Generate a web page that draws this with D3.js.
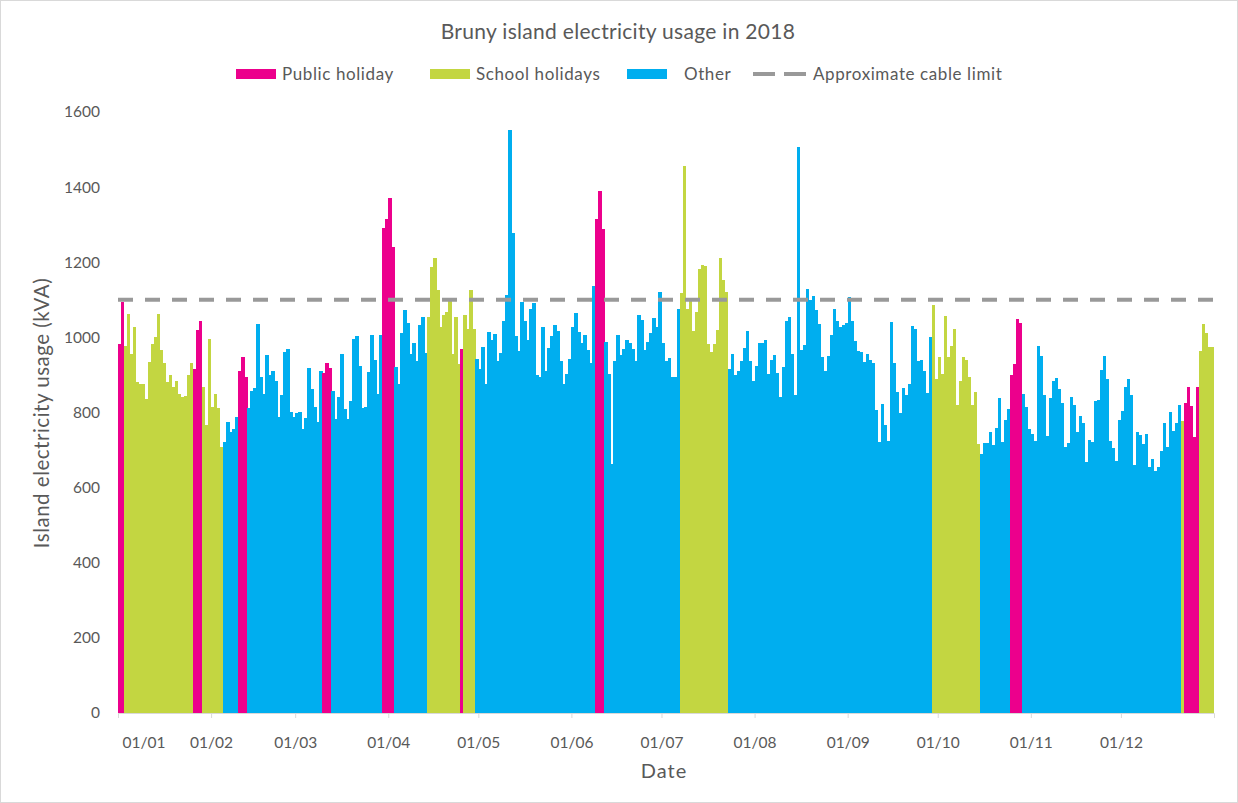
<!DOCTYPE html>
<html>
<head>
<meta charset="utf-8">
<script src="https://cdn.jsdelivr.net/npm/d3@7"></script>
<style>
  body { margin: 0; background: #fff; }
  svg { display: block; font-family: Lato, "Open Sans", sans-serif; }
</style>
</head>
<body>
<svg id="chart" width="1238" height="803"></svg>
<script>
// daily island usage (kVA), one array per month
var jan = [982, 1095, 977, 1062, 956, 1028, 881, 876, 875, 836, 935, 982, 1001, 1062, 966, 933,
  882, 900, 869, 885, 849, 841, 845, 900, 931, 916, 1020, 1043, 869, 767, 996];
var feb = [815, 849, 812, 707, 721, 775, 748, 755, 787, 911, 949, 895, 812, 858, 865, 1036,
  895, 849, 952, 899, 910, 885, 789, 846, 961, 970, 801, 787];
var mar = [798, 801, 755, 785, 918, 862, 815, 775, 910, 906, 933, 918, 858, 782, 842, 956,
  808, 782, 831, 995, 1004, 925, 812, 815, 908, 1007, 941, 849, 1007, 1291, 1314];
var apr = [1371, 1241, 922, 876, 1012, 1073, 1037, 957, 986, 938, 1034, 1053, 959, 1053, 1188,
  1211, 1126, 1027, 1060, 1067, 1099, 956, 1053, 929, 970, 1060, 1023, 1126, 1023, 943];
var may = [917, 975, 876, 1014, 993, 1009, 936, 959, 1043, 1114, 1552, 1277, 1004, 965, 1094,
  1043, 993, 1076, 1092, 899, 895, 1028, 910, 973, 1004, 1032, 1016, 936, 876, 902, 943];
var jun = [1027, 1064, 1014, 984, 1007, 966, 933, 1137, 1314, 1389, 1288, 989, 902, 663, 936,
  1007, 954, 970, 993, 984, 970, 936, 1060, 1046, 966, 989, 1011, 1051, 1028, 1121];
var jul = [986, 936, 945, 895, 895, 1076, 1119, 1456, 1075, 1101, 1016, 1067, 1181, 1193, 1190,
  982, 961, 983, 1020, 1211, 1153, 1122, 917, 956, 899, 911, 938, 972, 1016, 938, 883];
var aug = [925, 986, 985, 993, 902, 940, 952, 906, 842, 922, 1043, 1053, 956, 846, 1506, 966,
  979, 1130, 1099, 1110, 1073, 1036, 947, 911, 951, 1007, 1076, 1043, 1027, 1034, 1037];
var sep = [1107, 1043, 991, 963, 962, 934, 956, 940, 933, 807, 721, 823, 768, 725, 1041, 933,
  855, 798, 865, 846, 876, 1030, 1021, 936, 940, 911, 853, 1000, 1087, 890];
var oct = [949, 902, 1057, 947, 977, 1023, 819, 883, 949, 941, 895, 819, 855, 716, 689, 720,
  720, 748, 713, 759, 838, 721, 780, 808, 899, 929, 1050, 1039, 849, 815, 755];
var nov = [743, 725, 977, 950, 846, 737, 838, 885, 892, 862, 826, 709, 718, 842, 819, 748,
  792, 771, 668, 728, 721, 830, 833, 913, 950, 888, 725, 705, 672, 780];
var dec = [803, 869, 888, 847, 661, 748, 741, 716, 744, 654, 677, 645, 654, 697, 771, 709,
  801, 752, 771, 821, 778, 824, 869, 817, 736, 869, 963, 1036, 1012, 975, 974];

// day ranges flagged in the original (first day, last day)
var publicHolidays = [
  ["2018-01-01", "2018-01-02"], ["2018-01-26", "2018-01-28"], ["2018-02-10", "2018-02-12"],
  ["2018-03-10", "2018-03-12"], ["2018-03-30", "2018-04-02"], ["2018-04-25", "2018-04-25"],
  ["2018-06-09", "2018-06-11"], ["2018-10-25", "2018-10-28"], ["2018-12-22", "2018-12-26"]
];
var schoolHolidays = [
  ["2018-01-03", "2018-01-25"], ["2018-01-29", "2018-02-04"], ["2018-04-14", "2018-04-24"],
  ["2018-04-26", "2018-04-29"], ["2018-07-07", "2018-07-22"], ["2018-09-29", "2018-10-14"],
  ["2018-12-21", "2018-12-21"], ["2018-12-27", "2018-12-31"]
];
var cableLimit = 1100;
var yTicks = [0, 200, 400, 600, 800, 1000, 1200, 1400, 1600];
var legendLabels = ["Public holiday", "School holidays", "Other", "Approximate cable limit"];

var svg = d3.select("#chart");
var width = 1238, height = 803;
var plotLeft = 118, plotRight = 1214, plotTop = 112, plotBottom = 713;
var textColor = "#595959";

var parse = d3.timeParse("%Y-%m-%d");
var start = parse("2018-01-01"), end = parse("2019-01-01");

var usage = [].concat(jan, feb, mar, apr, may, jun, jul, aug, sep, oct, nov, dec);

function inRanges(date, ranges) {
  for (var i = 0; i < ranges.length; i++) {
    if (date >= parse(ranges[i][0]) && date <= parse(ranges[i][1])) return true;
  }
  return false;
}

var days = usage.map(function(v, i) {
  var date = d3.timeDay.offset(start, i);
  var group = 3;
  if (inRanges(date, publicHolidays)) group = 1;
  else if (inRanges(date, schoolHolidays)) group = 2;
  return { date: date, value: v, group: group };
});

function color(g) {
  switch (g) {
    case 1: return "#ec008c"; // public holiday
    case 2: return "#c3d641"; // school holidays
    default: return "#00aeef"; // other
  }
}

var x = d3.scaleTime().domain([start, end]).range([plotLeft, plotRight]);
var y = d3.scaleLinear().domain([0, 1600]).range([plotBottom, plotTop]);

// chart border
svg.append("rect")
  .attr("x", 0.5).attr("y", 0.5)
  .attr("width", width - 1).attr("height", height - 1)
  .attr("fill", "none").attr("stroke", "#d9d9d9");

// bars
svg.append("g")
  .selectAll("rect")
  .data(days)
  .enter().append("rect")
  .attr("x", function(d) { return x(d.date); })
  .attr("width", function(d) { return x(d3.timeDay.offset(d.date, 1)) - x(d.date) + 0.4; })
  .attr("y", function(d) { return y(d.value); })
  .attr("height", function(d) { return y(0) - y(d.value); })
  .attr("fill", function(d) { return color(d.group); })
  .attr("shape-rendering", "crispEdges");

// cable limit
svg.append("line")
  .attr("x1", plotLeft).attr("x2", plotRight)
  .attr("y1", y(cableLimit)).attr("y2", y(cableLimit))
  .attr("stroke", "#999999")
  .attr("stroke-width", 4)
  .attr("stroke-dasharray", "15 12");

// y axis
var yAxis = svg.append("g")
  .attr("transform", "translate(" + plotLeft + ",0)")
  .call(d3.axisLeft(y).tickValues(yTicks).tickFormat(d3.format("d"))
    .tickSize(0).tickPadding(18));
yAxis.select(".domain").remove();
yAxis.selectAll("text")
  .style("font-size", "15.5px")
  .style("font-family", "Lato, sans-serif")
  .attr("fill", textColor);

// x axis
var months = d3.timeMonth.range(start, end);
var xAxis = svg.append("g")
  .attr("transform", "translate(0," + plotBottom + ")")
  .call(d3.axisBottom(x).tickValues(months).tickFormat(d3.timeFormat("%d/%m"))
    .tickSize(5).tickPadding(19));
xAxis.select(".domain").attr("stroke", "#d9d9d9");
xAxis.selectAll("line").attr("stroke", "#d9d9d9");
xAxis.selectAll("text")
  .style("font-size", "15.5px")
  .style("font-family", "Lato, sans-serif")
  .attr("fill", textColor);
xAxis.selectAll("text").filter(function(d, i) { return i === 0; })
  .attr("text-anchor", "start").attr("dx", 4);

// titles
svg.append("text")
  .attr("x", 618).attr("y", 39)
  .attr("text-anchor", "middle")
  .style("font-size", "21px")
  .style("letter-spacing", "0.3px")
  .attr("fill", textColor)
  .text("Bruny island electricity usage in 2018");

svg.append("text")
  .attr("x", 664).attr("y", 778)
  .attr("text-anchor", "middle")
  .style("font-size", "20px")
  .style("letter-spacing", "1px")
  .attr("fill", textColor)
  .text("Date");

svg.append("text")
  .attr("transform", "translate(49,413) rotate(-90)")
  .attr("text-anchor", "middle")
  .style("font-size", "20.5px")
  .style("letter-spacing", "0.5px")
  .attr("fill", textColor)
  .text("Island electricity usage (kVA)");

// legend
var legendX = [236, 430, 627, 753];
var legendTextX = [282, 476, 684, 813];
var legend = svg.append("g").attr("transform", "translate(0,74)");
legendLabels.forEach(function(label, i) {
  if (i < 3) {
    legend.append("rect")
      .attr("x", legendX[i]).attr("y", -5)
      .attr("width", 40).attr("height", 10)
      .attr("fill", color(i + 1));
  } else {
    legend.append("line")
      .attr("x1", legendX[i]).attr("x2", legendX[i] + 53)
      .attr("stroke", "#999999")
      .attr("stroke-width", 4)
      .attr("stroke-dasharray", "22 9");
  }
  legend.append("text")
    .attr("x", legendTextX[i])
    .attr("y", 6)
    .style("font-size", "17px")
    .style("letter-spacing", "0.6px")
    .attr("fill", textColor)
    .text(label);
});
</script>
</body>
</html>
